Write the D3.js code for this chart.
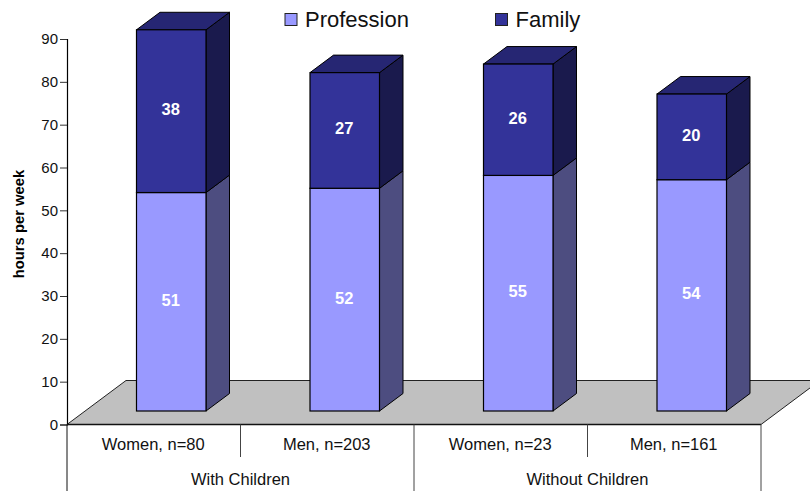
<!DOCTYPE html>
<html>
<head>
<meta charset="utf-8">
<script src="https://cdn.jsdelivr.net/npm/d3@7"></script>
<style>
  html, body { margin: 0; padding: 0; background: #fff; }
  svg { display: block; font-family: "Liberation Sans", Arial, sans-serif; }
</style>
</head>
<body>
<svg id="chart" width="810" height="491"></svg>
<script>
// Weekly hours spent on profession and family work
const categories = ["Women, n=80", "Men, n=203", "Women, n=23", "Men, n=161"];
const groups = ["With Children", "Without Children"];
const profession = [51, 52, 55, 54];
const family = [38, 27, 26, 20];
const yTicks = [0, 10, 20, 30, 40, 50, 60, 70, 80, 90];
const seriesNames = ["Profession", "Family"];

const svg = d3.select("#chart");
const plot = { left: 67, right: 761, top: 39, bottom: 424.5 };

const y = d3.scaleLinear().domain([0, 90]).range([plot.bottom, plot.top]);
const x = d3.scaleBand().domain(categories).range([plot.left, plot.right]).paddingInner(0).paddingOuter(0);
const barWidth = 69.5;

// Oblique projection of the chart's depth axis
const floorDx = 59, floorDy = -44;
const barInset = { x: 17.5, y: -13.5 };   // bars stand this far back on the floor
const barDepth = { x: 23.5, y: -17.5 };

const stroke = "#000";
const palette = {
  Profession: { front: "#9999ff", side: "#4d4d80", top: "#7373bf" },
  Family: { front: "#333399", side: "#1a1a4d", top: "#262673" }
};

// Floor
svg.append("polygon")
  .attr("points", [
    [plot.left, plot.bottom],
    [plot.left + floorDx, plot.bottom + floorDy],
    [plot.right + floorDx, plot.bottom + floorDy],
    [plot.right, plot.bottom]
  ].join(" "))
  .attr("fill", "#c0c0c0")
  .attr("stroke", "#222")
  .attr("stroke-width", 1);

// Value axis
const yAxis = d3.axisLeft(y).tickValues(yTicks).tickSize(7).tickPadding(2);
const yg = svg.append("g")
  .attr("transform", `translate(${plot.left},0)`)
  .call(yAxis);
yg.select(".domain").attr("stroke", "#000").attr("stroke-width", 1.2);
yg.selectAll(".tick line").attr("stroke", "#333").attr("stroke-width", 1);
yg.selectAll(".tick text").attr("font-size", 15).attr("fill", "#111")
  .attr("font-family", '"Liberation Sans", Arial, sans-serif');

svg.append("text")
  .attr("transform", "translate(24,224) rotate(-90)")
  .attr("text-anchor", "middle")
  .attr("font-size", 14.8)
  .attr("font-weight", "bold")
  .attr("fill", "#000")
  .text("hours per week");

// One stacked 3-D column per category
const stacked = categories.map((c, i) => ({
  cat: c,
  segments: [
    { name: "Profession", from: 0, to: profession[i], value: profession[i] },
    { name: "Family", from: profession[i], to: profession[i] + family[i], value: family[i] }
  ]
}));

const bars = svg.append("g").selectAll("g").data(stacked).join("g");

bars.each(function (d) {
  const g = d3.select(this);
  const x0 = x(d.cat) + x.bandwidth() / 2 + barInset.x - barWidth / 2;
  const x1 = x0 + barWidth;
  d.segments.forEach((s, k) => {
    const yB = y(s.from) + barInset.y;
    const yT = y(s.to) + barInset.y;
    const colors = palette[s.name];
    g.append("polygon")
      .attr("points", [[x1, yB], [x1 + barDepth.x, yB + barDepth.y], [x1 + barDepth.x, yT + barDepth.y], [x1, yT]].join(" "))
      .attr("fill", colors.side).attr("stroke", stroke).attr("stroke-width", 1).attr("stroke-linejoin", "round");
    if (k === d.segments.length - 1) {
      g.append("polygon")
        .attr("points", [[x0, yT], [x0 + barDepth.x, yT + barDepth.y], [x1 + barDepth.x, yT + barDepth.y], [x1, yT]].join(" "))
        .attr("fill", colors.top).attr("stroke", stroke).attr("stroke-width", 1).attr("stroke-linejoin", "round");
    }
    g.append("rect")
      .attr("x", x0).attr("y", yT)
      .attr("width", barWidth).attr("height", yB - yT)
      .attr("fill", colors.front).attr("stroke", stroke).attr("stroke-width", 1.2);
    g.append("text")
      .attr("x", (x0 + x1) / 2 - 0.5)
      .attr("y", (yT + yB) / 2 - 2)
      .attr("dy", "0.36em")
      .attr("text-anchor", "middle")
      .attr("font-size", 16.5)
      .attr("font-weight", "bold")
      .attr("fill", "#fff")
      .text(s.value);
  });
});

// Axis baseline across the front of the floor
svg.append("line")
  .attr("x1", plot.left).attr("x2", plot.right)
  .attr("y1", plot.bottom).attr("y2", plot.bottom)
  .attr("stroke", "#111").attr("stroke-width", 1.3);

// Two-level category axis
const axisG = svg.append("g");
const tierOneBottom = 457, tierTwoBottom = 491;
const edges = categories.map(c => x(c)).concat([plot.right]);
edges.forEach((ex, i) => {
  axisG.append("line")
    .attr("x1", ex).attr("x2", ex)
    .attr("y1", plot.bottom)
    .attr("y2", i % 2 === 0 ? tierTwoBottom : tierOneBottom)
    .attr("stroke", i === 0 ? "#111" : "#444")
    .attr("stroke-width", 1);
});
axisG.selectAll("text.cat").data(categories).join("text")
  .attr("class", "cat")
  .attr("x", c => x(c) + x.bandwidth() / 2 - 0.5)
  .attr("y", 450)
  .attr("text-anchor", "middle")
  .attr("font-size", 16.5)
  .attr("fill", "#111")
  .text(c => c);
axisG.selectAll("text.group").data(groups).join("text")
  .attr("class", "group")
  .attr("x", (g, i) => (edges[i * 2] + edges[i * 2 + 2]) / 2)
  .attr("y", 485)
  .attr("text-anchor", "middle")
  .attr("font-size", 16.5)
  .attr("fill", "#111")
  .text(g => g);

// Legend
const legendX = [285, 495.5];
const legend = svg.append("g").selectAll("g").data(seriesNames).join("g")
  .attr("transform", (d, i) => `translate(${legendX[i]},13.5)`);
legend.append("rect")
  .attr("width", 12).attr("height", 12)
  .attr("fill", d => palette[d].front)
  .attr("stroke", "#222").attr("stroke-width", 1);
legend.append("text")
  .attr("x", 20).attr("y", 13)
  .attr("font-size", 22)
  .attr("fill", "#111")
  .text(d => d);
</script>
</body>
</html>
